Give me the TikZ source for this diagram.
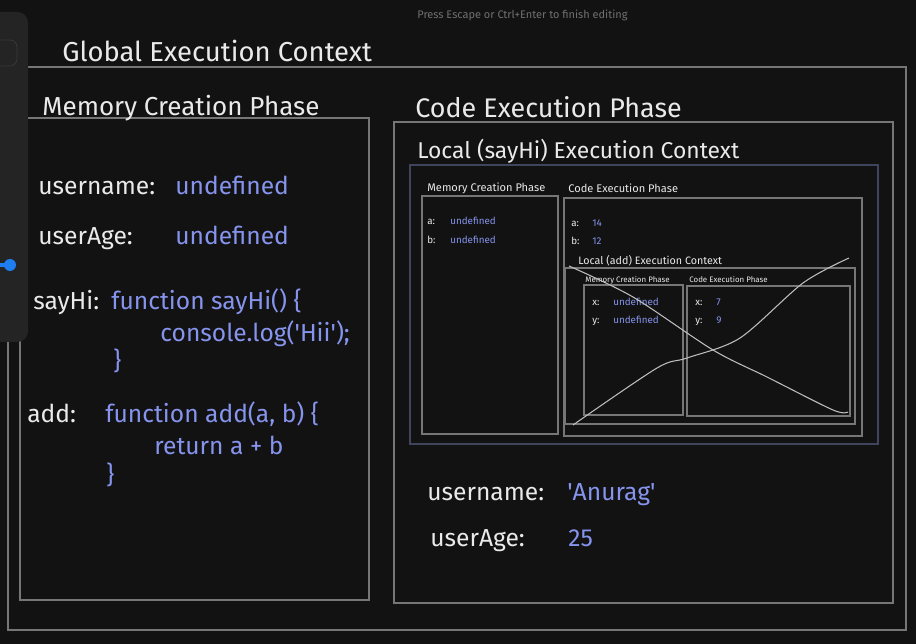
\documentclass[tikz,border=0pt]{standalone}
\usepackage{fontspec}
\setmainfont{Fira Sans}
\usetikzlibrary{calc}
\definecolor{canvas}{RGB}{18,18,18}
\definecolor{panelgrey}{RGB}{36,36,36}
\definecolor{paneledge}{RGB}{58,58,58}
\definecolor{boxgrey}{RGB}{118,118,118}
\definecolor{ctxblue}{RGB}{64,68,92}
\definecolor{inkwhite}{RGB}{234,234,234}
\definecolor{valblue}{RGB}{134,148,238}
\definecolor{knobblue}{RGB}{30,125,240}
\definecolor{hintgrey}{RGB}{112,112,112}
\definecolor{crossgrey}{RGB}{190,190,190}

\tikzset{
  frame/.style={draw=boxgrey, line width=0.7pt},
  lbl/.style={anchor=base west, inner sep=0pt, text=inkwhite},
  val/.style={lbl, text=valblue},
  headtxt/.style={font=\fontsize{15.3}{18}\selectfont},
  bigtxt/.style={font=\fontsize{14}{17}\selectfont},
  ctxtxt/.style={font=\fontsize{13}{15}\selectfont},
  midtxt/.style={font=\fontsize{6.3}{7.5}\selectfont},
  smalltxt/.style={font=\fontsize{5.6}{6.5}\selectfont},
  tinytxt/.style={font=\fontsize{4.5}{5.5}\selectfont},
}

\begin{document}
\begin{tikzpicture}[x=0.02cm, y=-0.02cm]
    % ── canvas ─────────────────────────────────────────────
    \fill[canvas] (0,0) rectangle (916,644);
    \useasboundingbox (0,0) rectangle (916,644);

    % ── Global execution context ───────────────────────────
    \draw[frame] (8,67) rectangle (906,630);
    \node[lbl,headtxt,font=\fontsize{15.6}{18}\selectfont] (gecTitle) at (62,62) {Global Execution Context};

    % Memory creation phase (global)
    \draw[frame] (20,118) rectangle (369,600);
    \node[lbl,headtxt,font=\fontsize{14.8}{18}\selectfont] (memTitle) at (42,116) {Memory Creation Phase};
    \node[lbl,bigtxt] (memUser) at (38,195) {username:};
    \node[val,bigtxt] (memUserVal) at (175,195) {undefined};
    \node[lbl,bigtxt] (memAge) at (38,245) {userAge:};
    \node[val,bigtxt] (memAgeVal) at (175,245) {undefined};
    \node[lbl,bigtxt] (memHi) at (33,310) {sayHi:};
    \node[val,bigtxt] (memHiA) at (111,310) {function sayHi() \{};
    \node[val,bigtxt] (memHiB) at (160,342) {console.log(\textquotesingle Hii\textquotesingle);};
    \node[val,bigtxt] (memHiC) at (113,370) {\}};
    \node[lbl,bigtxt] (memAdd) at (27,423) {add:};
    \node[val,bigtxt] (memAddA) at (105,423) {function add(a, b) \{};
    \node[val,bigtxt] (memAddB) at (154,455) {return a + b};
    \node[val,bigtxt] (memAddC) at (106,484) {\}};

    % Code execution phase (global)
    \draw[frame] (394,122) rectangle (893,603);
    \node[lbl,headtxt] (codeTitle) at (415,118) {Code Execution Phase};
    \node[lbl,bigtxt] (codeUser) at (427,501) {username:};
    \node[val,bigtxt] (codeUserVal) at (567,501) {\textquotesingle Anurag\textquotesingle};
    \node[lbl,bigtxt] (codeAge) at (430,547) {userAge:};
    \node[val,bigtxt] (codeAgeVal) at (568,547) {25};

    % ── Local (sayHi) execution context ────────────────────
    \node[lbl,ctxtxt] (hiTitle) at (417,159) {Local (sayHi) Execution Context};
    \draw[draw=ctxblue, line width=0.7pt] (410,165) rectangle (878,444);

    \draw[frame] (422,196) rectangle (558,434);
    \node[lbl,midtxt] (hiMemTitle) at (427,192) {Memory Creation Phase};
    \foreach \yy/\nm in {225/a, 244/b}{
      \node[lbl,smalltxt] (hiMem\nm) at (427,\yy) {\nm:};
      \node[val,smalltxt] (hiMem\nm Val) at (450,\yy) {undefined};
    }

    \draw[frame] (564,198) rectangle (862,436);
    \node[lbl,midtxt] (hiCodeTitle) at (568,193) {Code Execution Phase};
    \foreach \yy/\nm/\v in {227/a/14, 245/b/12}{
      \node[lbl,smalltxt] (hiCode\nm) at (571,\yy) {\nm:};
      \node[val,smalltxt] (hiCode\nm Val) at (592,\yy) {\v};
    }

    % ── Local (add) execution context ──────────────────────
    \node[lbl,smalltxt,font=\fontsize{6.1}{7}\selectfont] (addTitle) at (578,265) {Local (add) Execution Context};
    \draw[frame] (565,268) rectangle (855,424);

    \draw[frame] (584,285) rectangle (683,415);
    \node[lbl,tinytxt] (addMemTitle) at (585,283) {Memory Creation Phase};
    \foreach \yy/\nm in {306/x, 324/y}{
      \node[lbl,smalltxt] (addMem\nm) at (592,\yy) {\nm:};
      \node[val,smalltxt] (addMem\nm Val) at (613,\yy) {undefined};
    }

    \draw[frame] (687,286) rectangle (850,416);
    \node[lbl,tinytxt] (addCodeTitle) at (689,283) {Code Execution Phase};
    \foreach \yy/\nm/\v in {306/x/7, 324/y/9}{
      \node[lbl,smalltxt] (addCode\nm) at (695,\yy) {\nm:};
      \node[val,smalltxt] (addCode\nm Val) at (716,\yy) {\v};
    }

    % Crossed out by hand
    \draw[crossgrey, line width=0.6pt] plot[smooth] coordinates
      {(569,266) (633,297) (713,350) (767,377) (833,410) (848,412)};
    \draw[crossgrey, line width=0.6pt] plot[smooth] coordinates
      {(573,425) (657,368) (687,358) (740,338) (803,283) (849,258)};

    % ── editor overlay ─────────────────────────────────────
    \fill[panelgrey, rounded corners=6] (-12,12) rectangle (28,342);
    \draw[paneledge, rounded corners=4] (-12,40) rectangle (17,66);
    \draw[knobblue, line width=2.5pt] (-2,265) -- (10,265);
    \fill[knobblue] (10,265) circle (6);
    \node[lbl, text=hintgrey, font=\fontsize{6.25}{7}\selectfont] (hint) at (417,19)
      {Press Escape or Ctrl+Enter to finish editing};
\end{tikzpicture}
\end{document}
